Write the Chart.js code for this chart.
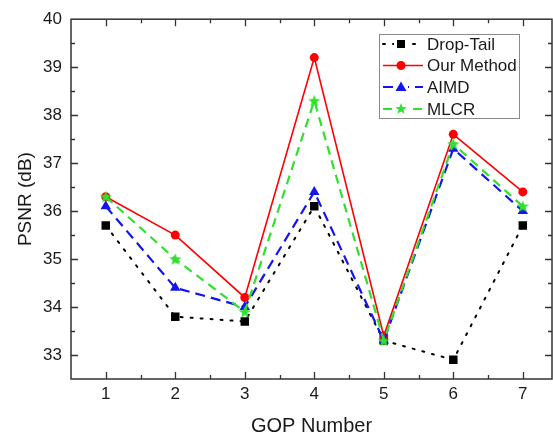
<!DOCTYPE html>
<html>
<head>
<meta charset="utf-8">
<script src="https://cdn.jsdelivr.net/npm/chart.js@4.4.1/dist/chart.umd.min.js"></script>
<style>
  html, body { margin: 0; padding: 0; background: #fff; }
  #wrap { width: 553px; height: 442px; }
</style>
</head>
<body>
<div id="wrap"><canvas id="c" width="553" height="442"></canvas></div>
<script>
// ---- data ----
const gopNumbers = [1, 2, 3, 4, 5, 6, 7];
const dropTail  = [35.7, 33.8, 33.7, 36.1, 33.3, 32.9, 35.7];
const ourMethod = [36.3, 35.5, 34.2, 39.2, 33.4, 37.6, 36.4];
const aimd      = [36.1, 34.4, 34.0, 36.4, 33.3, 37.3, 36.0];
const mlcr      = [36.3, 35.0, 33.9, 38.3, 33.3, 37.4, 36.1];
const seriesNames = ['Drop-Tail', 'Our Method', 'AIMD', 'MLCR'];
const yTickValues = [33, 34, 35, 36, 37, 38, 39, 40];

const FONT = '"Liberation Sans", Arial, sans-serif';
const RED = '#ff0000', BLUE = '#1414f0', GREEN = '#2fe02f', BLACK = '#000000';

function drawStar(ctx, x, y, R, r, color) {
  ctx.save();
  ctx.beginPath();
  for (let i = 0; i < 10; i++) {
    const rad = i % 2 === 0 ? R : r;
    const a = -Math.PI / 2 + i * Math.PI / 5;
    const px = x + rad * Math.cos(a), py = y + rad * Math.sin(a);
    if (i === 0) ctx.moveTo(px, py); else ctx.lineTo(px, py);
  }
  ctx.closePath();
  ctx.fillStyle = color;
  ctx.fill();
  ctx.restore();
}
const starCanvas = document.createElement('canvas');
starCanvas.width = 14; starCanvas.height = 14;
drawStar(starCanvas.getContext('2d'), 7, 7.5, 6.5, 2.7, GREEN);

function pts(arr) { return gopNumbers.map((g, i) => ({ x: g, y: arr[i] })); }

const datasets = [
  { label: seriesNames[0], data: pts(dropTail), borderColor: BLACK, backgroundColor: BLACK,
    borderWidth: 2, borderDash: [2, 8], borderCapStyle: 'round', pointStyle: 'rect', pointRadius: 6,
    pointBorderWidth: 0, order: 4 },
  { label: seriesNames[1], data: pts(ourMethod), borderColor: RED, backgroundColor: RED,
    borderWidth: 1.6, pointStyle: 'circle', pointRadius: 4.5, pointBorderWidth: 0, order: 3 },
  { label: seriesNames[2], data: pts(aimd), borderColor: BLUE, backgroundColor: BLUE,
    borderWidth: 2.2, borderDash: [10, 6], pointStyle: 'triangle', pointRadius: 6, pointBorderWidth: 0, order: 2 },
  { label: seriesNames[3], data: pts(mlcr), borderColor: GREEN, backgroundColor: GREEN,
    borderWidth: 2.2, borderDash: [9, 6], pointStyle: starCanvas, pointRadius: 6, pointBorderWidth: 0, order: 1 }
];

const frameTicks = {
  id: 'frameTicks',
  afterDraw(chart) {
    const ctx = chart.ctx, a = chart.chartArea;
    const xs = chart.scales.x, ys = chart.scales.y;
    ctx.save();
    ctx.strokeStyle = '#333';
    ctx.lineWidth = 1.5;
    ctx.strokeRect(a.left, a.top, a.right - a.left, a.bottom - a.top);
    ctx.lineWidth = 1.3;
    ctx.beginPath();
    for (let v = 1; v <= 7.01; v += 0.5) {
      const major = Math.abs(v - Math.round(v)) < 0.01;
      const L = major ? 7 : 4;
      const px = Math.round(xs.getPixelForValue(v)) + 0.5;
      ctx.moveTo(px, a.bottom); ctx.lineTo(px, a.bottom - L);
      ctx.moveTo(px, a.top); ctx.lineTo(px, a.top + L);
    }
    for (let v = 33; v <= 39.51; v += 0.5) {
      const major = Math.abs(v - Math.round(v)) < 0.01;
      const L = major ? 7 : 4;
      const py = Math.round(ys.getPixelForValue(v)) + 0.5;
      ctx.moveTo(a.left, py); ctx.lineTo(a.left + L, py);
      ctx.moveTo(a.right, py); ctx.lineTo(a.right - L, py);
    }
    ctx.stroke();
    ctx.restore();
  }
};

const boxLegend = {
  id: 'boxLegend',
  afterDraw(chart) {
    const ctx = chart.ctx;
    const bx = 379.5, by = 34.5, bw = 140, bh = 84;
    ctx.save();
    ctx.fillStyle = '#fff';
    ctx.fillRect(bx, by, bw, bh);
    ctx.strokeStyle = '#8a8a8a';
    ctx.lineWidth = 1;
    ctx.strokeRect(bx, by, bw, bh);
    const rows = [44, 65.5, 87, 109];
    const x0 = 383, x1 = 423, xm = 401;
    ctx.font = '17px ' + FONT;
    ctx.textBaseline = 'middle';
    ctx.textAlign = 'left';
    chart.data.datasets.forEach((ds, i) => {
      const y = rows[i];
      ctx.save();
      ctx.strokeStyle = ds.borderColor;
      ctx.lineWidth = ds.borderWidth;
      ctx.lineCap = ds.borderCapStyle || 'butt';
      ctx.setLineDash(ds.borderDash || []);
      ctx.beginPath();
      ctx.moveTo(x0, y); ctx.lineTo(x1, y);
      ctx.stroke();
      ctx.restore();
      ctx.fillStyle = ds.backgroundColor;
      if (i === 0) {
        ctx.fillStyle = '#fff'; ctx.fillRect(xm - 7, y - 5, 14, 10);
        ctx.fillStyle = BLACK; ctx.fillRect(xm - 4, y - 4, 8, 8);
      } else if (i === 1) {
        ctx.beginPath(); ctx.arc(xm, y, 4.5, 0, Math.PI * 2); ctx.fill();
      } else if (i === 2) {
        ctx.fillStyle = '#fff'; ctx.fillRect(xm - 7, y - 6, 14, 12);
        ctx.fillStyle = BLUE;
        ctx.beginPath(); ctx.moveTo(xm, y - 5.5); ctx.lineTo(xm + 5.5, y + 4); ctx.lineTo(xm - 5.5, y + 4); ctx.closePath(); ctx.fill();
      } else {
        ctx.fillStyle = '#fff'; ctx.fillRect(xm - 7, y - 6, 14, 12);
        drawStar(ctx, xm, y, 6, 2.5, GREEN);
      }
      ctx.fillStyle = '#1a1a1a';
      ctx.fillText(ds.label, 427, y + 1);
    });
    ctx.restore();
  }
};

new Chart(document.getElementById('c'), {
  type: 'line',
  data: { datasets },
  options: {
    responsive: false,
    animation: false,
    layout: { autoPadding: false, padding: { top: 15, right: 1, left: 0, bottom: 0 } },
    plugins: { legend: { display: false }, tooltip: { enabled: false } },
    scales: {
      x: {
        type: 'linear', min: 0.5, max: 7.42,
        afterFit: s => { s.height = 63; },
        afterBuildTicks: s => { s.ticks = gopNumbers.map(v => ({ value: v })); },
        grid: { display: false, drawTicks: false },
        border: { display: false },
        ticks: { color: '#1a1a1a', font: { family: FONT, size: 17 }, padding: 5, maxRotation: 0 },
        title: { display: true, text: 'GOP Number', color: '#1a1a1a', font: { family: FONT, size: 20 }, padding: { top: 8, bottom: 4 } }
      },
      y: {
        min: 32.5, max: 40,
        afterFit: s => { s.width = 71; },
        afterBuildTicks: s => { s.ticks = yTickValues.map(v => ({ value: v })); },
        grid: { display: false, drawTicks: false },
        border: { display: false },
        ticks: { color: '#1a1a1a', font: { family: FONT, size: 17 }, padding: 9 },
        title: { display: true, text: 'PSNR (dB)', color: '#1a1a1a', font: { family: FONT, size: 19 }, padding: { top: 14, bottom: 0 } }
      }
    }
  },
  plugins: [frameTicks, boxLegend]
});
</script>
</body>
</html>
